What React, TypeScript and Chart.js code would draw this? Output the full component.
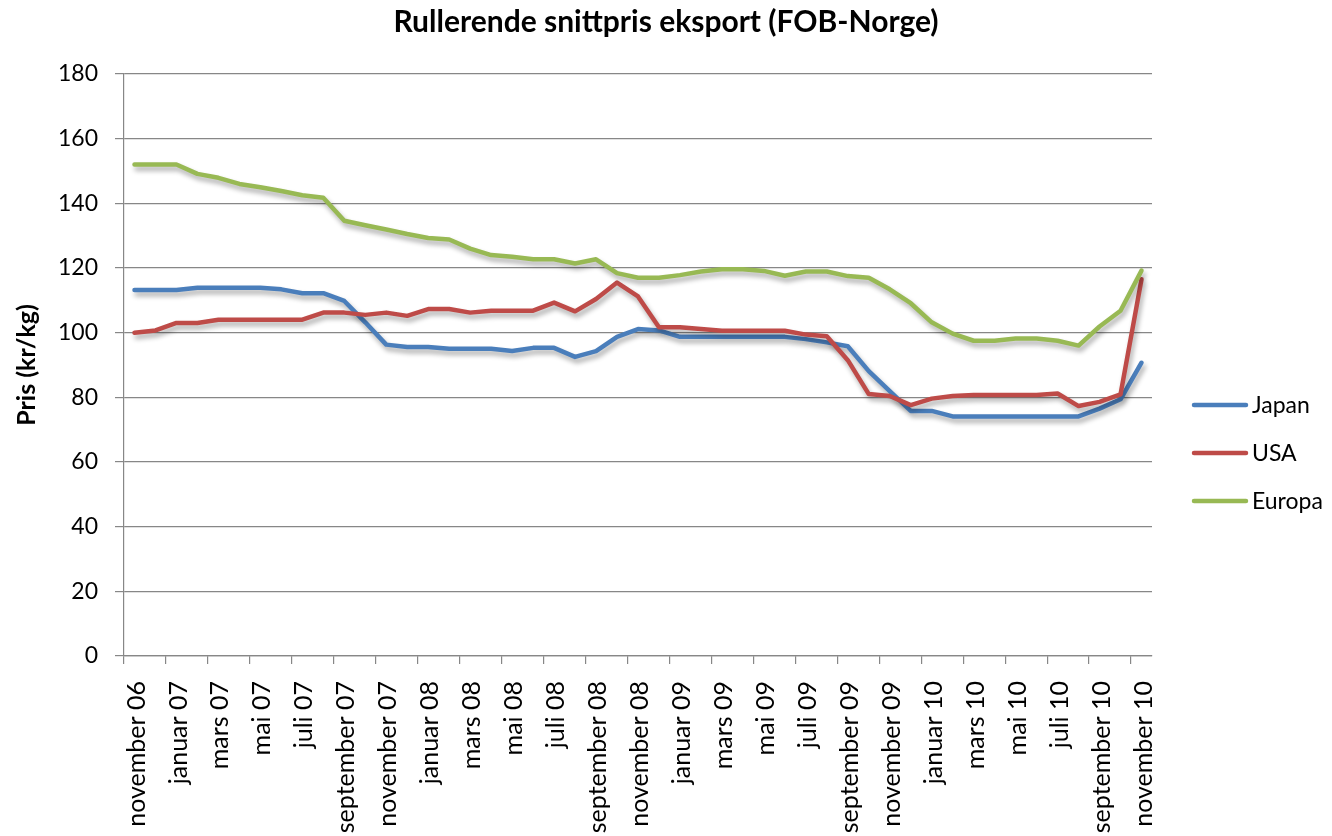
import React, { useEffect, useRef } from 'react';
import { Chart, registerables } from 'chart.js';

Chart.register(...registerables);

const categories = [
  'november 06', 'desember 06', 'januar 07', 'februar 07', 'mars 07', 'april 07', 'mai 07', 'juni 07',
  'juli 07', 'august 07', 'september 07', 'oktober 07', 'november 07', 'desember 07', 'januar 08',
  'februar 08', 'mars 08', 'april 08', 'mai 08', 'juni 08', 'juli 08', 'august 08', 'september 08',
  'oktober 08', 'november 08', 'desember 08', 'januar 09', 'februar 09', 'mars 09', 'april 09', 'mai 09',
  'juni 09', 'juli 09', 'august 09', 'september 09', 'oktober 09', 'november 09', 'desember 09',
  'januar 10', 'februar 10', 'mars 10', 'april 10', 'mai 10', 'juni 10', 'juli 10', 'august 10',
  'september 10', 'oktober 10', 'november 10',
];

const japan = [
  113.2, 113.2, 113.2, 113.9, 113.9, 113.9, 113.9, 113.4, 112.2, 112.2, 109.8, 103.2, 96.3, 95.6, 95.6,
  95.0, 95.0, 95.0, 94.3, 95.3, 95.3, 92.5, 94.3, 98.7, 101.1, 100.7, 98.7, 98.7, 98.7, 98.7, 98.7,
  98.7, 98.0, 97.0, 95.8, 88.1, 81.9, 75.8, 75.8, 74.1, 74.1, 74.1, 74.1, 74.1, 74.1, 74.1, 76.5, 79.4, 90.7,
];

const usa = [
  100.0, 100.7, 103.0, 103.0, 104.0, 104.0, 104.0, 104.0, 104.0, 106.2, 106.2, 105.5, 106.2, 105.2, 107.3,
  107.3, 106.2, 106.8, 106.8, 106.8, 109.3, 106.6, 110.4, 115.5, 111.2, 101.7, 101.7, 101.1, 100.6, 100.6,
  100.6, 100.6, 99.4, 98.9, 91.5, 81.0, 80.4, 77.6, 79.6, 80.4, 80.7, 80.7, 80.7, 80.7, 81.2, 77.3, 78.6,
  80.9, 116.5,
];

const europa = [
  152.0, 152.0, 152.0, 149.1, 147.9, 146.0, 145.0, 143.8, 142.5, 141.7, 134.6, 133.2, 131.9, 130.5, 129.3,
  128.8, 126.0, 124.0, 123.5, 122.7, 122.7, 121.4, 122.7, 118.4, 117.0, 117.0, 117.8, 118.9, 119.6, 119.6,
  119.1, 117.6, 118.9, 118.9, 117.5, 117.0, 113.4, 109.1, 103.2, 99.7, 97.5, 97.5, 98.2, 98.2, 97.5, 96.0,
  101.9, 106.8, 119.2,
];

const seriesNames = ['Japan', 'USA', 'Europa'];
const seriesColors = ['#4A7EBB', '#BE4B48', '#98B954'];

const Y_MIN = 0;
const Y_MAX = 180;
const Y_STEP = 20;

const TITLE = 'Rullerende snittpris eksport (FOB-Norge)';
const Y_TITLE = 'Pris (kr/kg)';

const FONT = 'Lato, "Open Sans", sans-serif';
const GRID = '#878787';

const shadowPlugin = {
  id: 'lineShadow',
  beforeDatasetDraw(chart: any) {
    const ctx = chart.ctx;
    ctx.save();
    ctx.shadowColor = 'rgba(0,0,0,0.33)';
    ctx.shadowBlur = 5;
    ctx.shadowOffsetX = 2;
    ctx.shadowOffsetY = 4;
  },
  afterDatasetDraw(chart: any) {
    chart.ctx.restore();
  },
};

const legendPlugin = {
  id: 'sideLegend',
  afterDraw(chart: any) {
    const ctx = chart.ctx;
    const x0 = 1192;
    const lineLen = 56;
    const y0 = 405;
    const gap = 48;
    ctx.save();
    chart.data.datasets.forEach((ds: any, i: number) => {
      const y = y0 + i * gap;
      ctx.strokeStyle = ds.borderColor;
      ctx.lineWidth = 4.5;
      ctx.lineCap = 'round';
      ctx.beginPath();
      ctx.moveTo(x0 + 2, y);
      ctx.lineTo(x0 + lineLen - 2, y);
      ctx.stroke();
      ctx.fillStyle = '#000';
      ctx.font = `23px ${FONT}`;
      ctx.textAlign = 'left';
      ctx.textBaseline = 'middle';
      ctx.fillText(ds.label, x0 + lineLen + 4, y + 1);
    });
    ctx.restore();
  },
};

export default function App() {
  const ref = useRef<HTMLCanvasElement | null>(null);

  useEffect(() => {
    if (!ref.current) return;
    const allSeries = [japan, usa, europa];
    const chart = new Chart(ref.current, {
      type: 'line',
      data: {
        labels: categories,
        datasets: allSeries.map((data, i) => ({
          label: seriesNames[i],
          data,
          borderColor: seriesColors[i],
          backgroundColor: seriesColors[i],
          borderWidth: 4.5,
          pointRadius: 0,
          pointHoverRadius: 0,
          tension: 0,
          borderJoinStyle: 'round' as const,
          borderCapStyle: 'round' as const,
          order: 3 - i,
          yAxisID: 'y',
        })),
      },
      options: {
        responsive: false,
        animation: false,
        devicePixelRatio: 1,
        layout: { padding: 0 },
        plugins: {
          legend: { display: false },
          tooltip: { enabled: false },
          title: {
            display: true,
            text: TITLE,
            color: '#000',
            font: { family: FONT, size: 30, weight: 'bold' },
            padding: { top: 4, bottom: 34 },
          },
        },
        scales: {
          x: {
            type: 'category',
            offset: true,
            grid: {
              display: true,
              offset: true,
              drawOnChartArea: false,
              drawTicks: true,
              tickLength: 8,
              lineWidth: 1.2,
              color: (c: any) => (c.index % 2 === 0 ? GRID : 'rgba(0,0,0,0)'),
            },
            border: { display: true, color: GRID, width: 1.2 },
            ticks: {
              autoSkip: false,
              maxRotation: 90,
              minRotation: 90,
              padding: 17,
              labelOffset: 2,
              color: '#000',
              font: { family: FONT, size: 25 },
              callback: (_v: any, i: number) => (i % 2 === 0 ? categories[i] : ''),
            },
            afterFit: (s: any) => {
              s.height = 180;
            },
          },
          y: {
            min: Y_MIN,
            max: Y_MAX,
            grid: {
              color: GRID,
              lineWidth: 1.2,
              drawTicks: true,
              tickLength: 9,
            },
            border: { display: true, color: GRID, width: 1.2 },
            ticks: {
              stepSize: Y_STEP,
              padding: 17,
              color: '#000',
              font: { family: FONT, size: 23 },
            },
            title: {
              display: true,
              text: Y_TITLE,
              color: '#000',
              font: { family: FONT, size: 25, weight: 'bold' },
              padding: { top: 12, bottom: 0 },
            },
            afterFit: (s: any) => {
              s.width = 124;
            },
          },
          legendSpace: {
            type: 'linear',
            position: 'right',
            display: true,
            min: Y_MIN,
            max: Y_MAX,
            grid: { display: false, drawOnChartArea: false, drawTicks: false },
            border: { display: false },
            ticks: { display: false },
            afterFit: (s: any) => {
              s.width = 180;
            },
          },
        },
      },
      plugins: [shadowPlugin, legendPlugin],
    });
    let alive = true;
    if ((document as any).fonts && (document as any).fonts.ready) {
      (document as any).fonts.ready.then(() => {
        if (alive) chart.update();
      });
    }
    return () => {
      alive = false;
      chart.destroy();
    };
  }, []);

  return (
    <div style={{ position: 'absolute', left: 0, top: 0, width: 1332, height: 836, background: '#fff' }}>
      <canvas ref={ref} width={1332} height={836} style={{ display: 'block' }} />
    </div>
  );
}
